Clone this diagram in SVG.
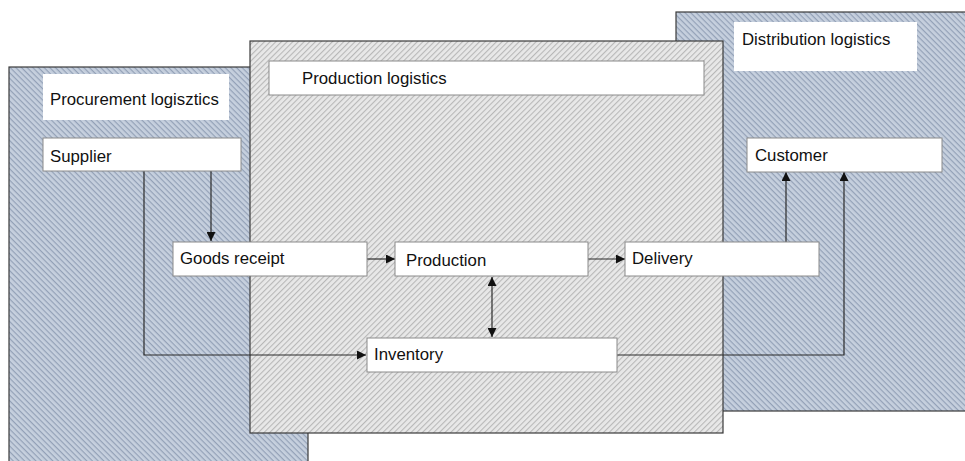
<svg xmlns="http://www.w3.org/2000/svg" width="965" height="461" viewBox="0 0 965 461">
<style>
.lbl{font-family:"Liberation Sans",Arial,sans-serif;font-size:16.8px;fill:#111}
.box{fill:#fff;stroke:#8a8a8a;stroke-width:1}
.tbox{fill:#fff;stroke:none}
.area{stroke:#3a3a3a;stroke-width:1.2}
.con{fill:none;stroke:#2a2a2a;stroke-width:1.2}
</style>
<defs>
<pattern id="blue" width="4" height="4" patternUnits="userSpaceOnUse" patternTransform="rotate(45)">
<rect width="4" height="4" fill="#c6d0de"/>
<rect width="4" height="1.2" fill="#93a1b7"/>
</pattern>
<pattern id="gray" width="4" height="4" patternUnits="userSpaceOnUse" patternTransform="rotate(-45)">
<rect width="4" height="4" fill="#e8e8e8"/>
<rect width="4" height="1.1" fill="#b8b8b8"/>
</pattern>
<marker id="ah" viewBox="0 0 10 10" refX="10" refY="5" markerWidth="9" markerHeight="9" markerUnits="userSpaceOnUse" orient="auto-start-reverse">
<path d="M0,0 L10,5 L0,10 z" fill="#111"/>
</marker>
</defs>
<rect width="965" height="461" fill="#fff"/>
<g id="procurement">
<rect class="area" x="9" y="67" width="299" height="400" fill="url(#blue)"/>
<rect class="tbox" x="43" y="74" width="186" height="46"/>
<text class="lbl" x="50" y="105">Procurement logisztics</text>
</g>
<g id="distribution">
<rect class="area" x="676" y="12" width="295" height="399" fill="url(#blue)"/>
<rect class="tbox" x="734" y="22" width="183" height="49"/>
<text class="lbl" x="742" y="45">Distribution logistics</text>
</g>
<g id="production-area">
<rect class="area" x="250" y="41" width="473" height="392" fill="url(#gray)"/>
<rect class="box" x="269" y="61" width="435" height="34"/>
<text class="lbl" x="302" y="84">Production logistics</text>
</g>
<g id="connectors">
<path class="con" d="M211,171 V241" marker-end="url(#ah)"/>
<path class="con" d="M144,171 V355 H366" marker-end="url(#ah)"/>
<path class="con" d="M367,259 H395" marker-end="url(#ah)"/>
<path class="con" d="M588,259 H625" marker-end="url(#ah)"/>
<path class="con" d="M492,277 V337" marker-start="url(#ah)" marker-end="url(#ah)"/>
<path class="con" d="M617,355 H844 V172" marker-end="url(#ah)"/>
<path class="con" d="M786,242 V172" marker-end="url(#ah)"/>
</g>
<g id="supplier">
<rect class="box" x="43" y="138" width="198" height="33"/>
<text class="lbl" x="50" y="162">Supplier</text>
</g>
<g id="goods-receipt">
<rect class="box" x="173" y="242" width="194" height="34"/>
<text class="lbl" x="180" y="264">Goods receipt</text>
</g>
<g id="production">
<rect class="box" x="395" y="242" width="193" height="34"/>
<text class="lbl" x="406" y="266">Production</text>
</g>
<g id="delivery">
<rect class="box" x="625" y="242" width="194" height="34"/>
<text class="lbl" x="632" y="264">Delivery</text>
</g>
<g id="inventory">
<rect class="box" x="367" y="338" width="250" height="34"/>
<text class="lbl" x="374" y="360">Inventory</text>
</g>
<g id="customer">
<rect class="box" x="747" y="138" width="195" height="34"/>
<text class="lbl" x="755" y="161">Customer</text>
</g>
</svg>
